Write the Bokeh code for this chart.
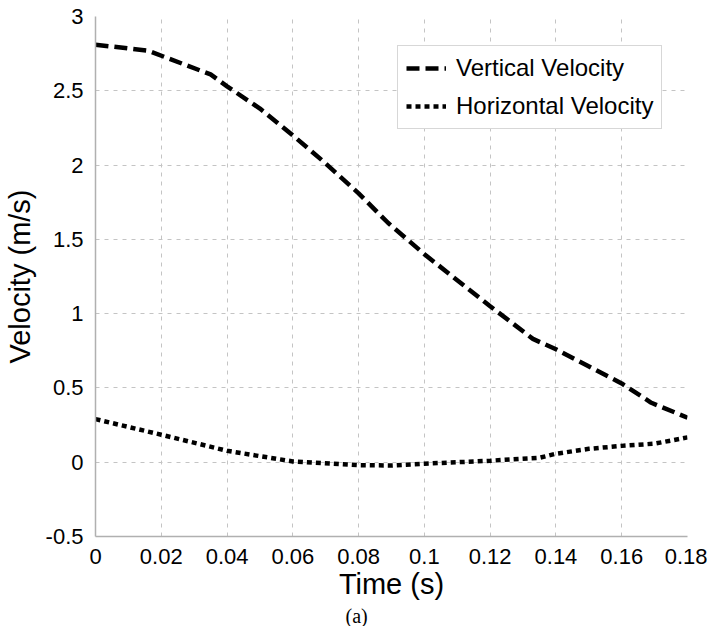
from bokeh.plotting import figure
from bokeh.models import FixedTicker, Legend, LegendItem, Title, Range1d
from bokeh.embed import file_html
from bokeh.resources import INLINE

# ---- data ----
time_v = [0, 0.016, 0.035, 0.04, 0.05, 0.06, 0.069, 0.08, 0.089, 0.1, 0.12, 0.133, 0.14, 0.16, 0.169, 0.18]
vertical = [2.81, 2.77, 2.61, 2.53, 2.38, 2.20, 2.03, 1.81, 1.61, 1.40, 1.05, 0.83, 0.76, 0.53, 0.40, 0.30]

time_h = [0, 0.02, 0.04, 0.06, 0.08, 0.09, 0.1, 0.12, 0.127, 0.135, 0.14, 0.15, 0.16, 0.17, 0.18]
horizontal = [0.29, 0.185, 0.077, 0.005, -0.02, -0.022, -0.01, 0.01, 0.02, 0.03, 0.057, 0.09, 0.11, 0.125, 0.167]

x_ticks = [0, 0.02, 0.04, 0.06, 0.08, 0.1, 0.12, 0.14, 0.16, 0.18]
x_tick_labels = ["0", "0.02", "0.04", "0.06", "0.08", "0.1", "0.12", "0.14", "0.16", "0.18"]
y_ticks = [-0.5, 0, 0.5, 1, 1.5, 2, 2.5, 3]
y_tick_labels = ["-0.5", "0", "0.5", "1", "1.5", "2", "2.5", "3"]

FONT = "Liberation Sans"

p = figure(frame_width=592, frame_height=520,
           x_range=Range1d(0, 0.18), y_range=Range1d(-0.5, 3),
           output_backend="svg", toolbar_location=None,
           min_border_left=90, min_border_right=20, min_border_top=16, min_border_bottom=60)
p.outline_line_color = None
p.background_fill_color = "white"

for ax in (p.xaxis[0], p.yaxis[0]):
    ax.axis_line_color = "#b0b0b0"
    ax.axis_line_width = 1.5
    ax.major_tick_line_color = None
    ax.minor_tick_line_color = None
    ax.major_label_text_font = FONT
    ax.major_label_text_font_size = "22px"
    ax.major_label_text_color = "black"
    ax.axis_label_text_font = FONT
    ax.axis_label_text_font_size = "29px"
    ax.axis_label_text_font_style = "normal"
    ax.axis_label_text_color = "black"

p.xaxis.ticker = FixedTicker(ticks=x_ticks)
p.xaxis.major_label_overrides = dict(zip(x_ticks, x_tick_labels))
p.yaxis.ticker = FixedTicker(ticks=y_ticks)
p.yaxis.major_label_overrides = dict(zip(y_ticks, y_tick_labels))
p.xaxis.axis_label = "Time (s)"
p.yaxis.axis_label = "Velocity (m/s)"
p.xaxis.major_label_standoff = 6
p.xaxis.axis_label_standoff = 1
p.yaxis.major_label_standoff = 6
p.yaxis.axis_label_standoff = 7

for g in (p.xgrid[0], p.ygrid[0]):
    g.grid_line_color = "#c4c4c4"
    g.grid_line_dash = "4 5"
    g.grid_line_width = 1

r_v = p.line(time_v, vertical, line_color="black", line_width=4.5, line_dash="13 6", line_cap="butt")
r_h = p.line(time_h, horizontal, line_color="black", line_width=4.5, line_dash="5 4", line_cap="butt")

legend = Legend(items=[LegendItem(label="Vertical Velocity", renderers=[r_v]),
                       LegendItem(label="Horizontal Velocity", renderers=[r_h])],
                location=(302, 407))
legend.label_text_font = FONT
legend.label_text_font_size = "24px"
legend.label_text_color = "black"
legend.glyph_width = 40
legend.glyph_height = 28
legend.label_height = 28
legend.label_standoff = 10
legend.spacing = 10
legend.padding = 8
legend.margin = 0
legend.border_line_color = "#b0b0b0"
legend.border_line_width = 1.5
legend.background_fill_color = "white"
legend.background_fill_alpha = 1
p.add_layout(legend)

caption = Title(text="(a)", align="left", offset=250, text_font="Liberation Serif",
                text_font_size="20px", text_font_style="normal", text_color="black",
                standoff=0)
p.add_layout(caption, "below")

open("out.html", "w").write(file_html(p, INLINE))
